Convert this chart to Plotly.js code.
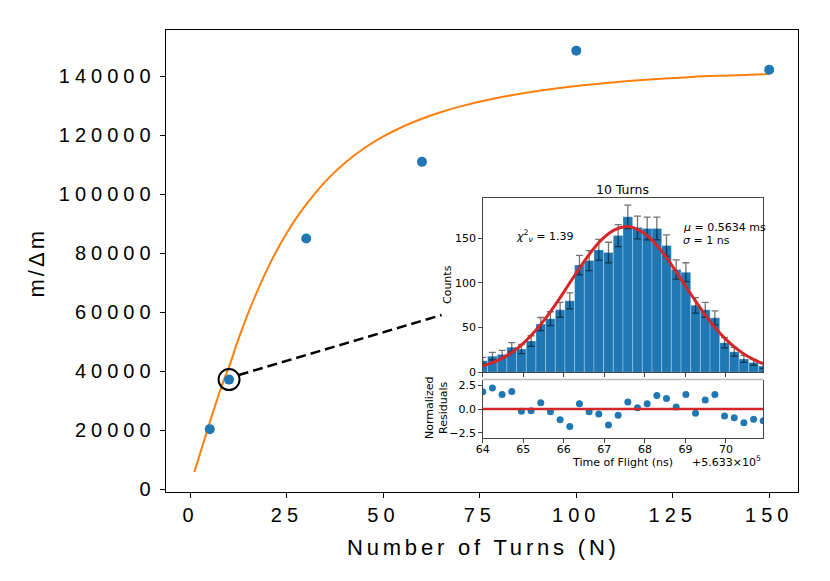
<!DOCTYPE html>
<html>
<head>
<meta charset="utf-8">
<script src="https://cdn.plot.ly/plotly-3.0.1.min.js"></script>
<style>
  html, body { margin: 0; padding: 0; background: #fff; }
  #chart { width: 830px; height: 581px; }
  .xtick text, .ytick text { letter-spacing: 5px; }
</style>
</head>
<body>
<div id="chart"></div>
<script>
// ---------- main chart data ----------
const turnsN = [5, 10, 30, 60, 100, 150];
const resolvingPower = [20400, 37200, 85000, 111000, 148700, 142200];

const fitTurns = [1, 2, 3, 4, 5, 6, 7, 8, 9, 10, 12, 14, 16, 18, 20, 22.5, 25, 27.5, 30, 35, 40, 45, 50, 55, 60, 65, 70, 80, 90, 100, 110, 120, 130, 140, 150];
const fitPower = [5900, 10000, 14300, 18500, 22700, 26800, 30800, 34700, 38300, 41500, 49300, 56500, 63100, 69200, 74900, 81300, 87000, 92100, 96600, 104400, 110600, 115600, 119600, 122900, 125600, 127900, 129800, 132800, 135000, 136700, 138000, 139000, 139800, 140300, 140800];

const highlightN = [10];
const highlightR = [37200];
const connectorN = [12.5, 65.1];
const connectorR = [38750, 59100];

const mainXTicks = [0, 25, 50, 75, 100, 125, 150];
const mainYTicks = [0, 20000, 40000, 60000, 80000, 100000, 120000, 140000];

// ---------- inset (10 turns) data ----------
const binCenters = [64.000, 64.239, 64.477, 64.716, 64.954, 65.193, 65.432, 65.670, 65.909, 66.147,
                    66.386, 66.625, 66.863, 67.102, 67.340, 67.579, 67.818, 68.056, 68.295, 68.533,
                    68.772, 69.011, 69.249, 69.488, 69.726, 69.965, 70.204, 70.442, 70.681, 70.919];
const counts = [13, 18, 20, 28, 26, 35, 54, 60, 70, 80,
                120, 125, 137, 134, 153, 174, 162, 161, 161, 142,
                115, 112, 75, 70, 61, 33, 23, 15, 11, 7];
const residuals = [1.82, 2.2, 1.54, 1.85, -0.24, -0.17, 0.66, -0.28, -1.12, -1.82,
                   0.56, -0.28, -0.52, -1.68, -0.66, 0.73, 0.14, 0.56, 1.43, 1.12,
                   0.21, 1.54, -0.45, 0.94, 1.54, -0.73, -0.91, -1.43, -1.08, -1.22];
const gaussX = [64.0, 64.25, 64.5, 64.75, 65.0, 65.25, 65.5, 65.75, 66.0, 66.25, 66.5, 66.75, 67.0, 67.25, 67.5,
                67.75, 68.0, 68.25, 68.5, 68.75, 69.0, 69.25, 69.5, 69.75, 70.0, 70.25, 70.5, 70.75, 70.92];
const gaussY = [7.2, 11.0, 16.2, 23.3, 32.5, 43.9, 57.5, 73.0, 89.8, 107.2, 124.0, 139.1, 151.2, 159.4, 163.0,
                161.4, 155.0, 144.4, 130.3, 114.1, 96.8, 79.6, 63.5, 49.1, 36.8, 26.7, 18.8, 12.9, 9.8];
const tofTicks = [64, 65, 66, 67, 68, 69, 70];
const countTicks = [0, 50, 100, 150];
const residTicks = [-2.5, 0, 2.5];

const blue = '#1f77b4', orange = '#ff7f0e', red = '#d62728';
const mainFont = 'Liberation Sans, Arial, sans-serif';
const insetFont = 'DejaVu Sans, sans-serif';

const traces = [
  { x: fitTurns, y: fitPower, type: 'scatter', mode: 'lines', line: { color: orange, width: 2, shape: 'spline', smoothing: 1 },
    xaxis: 'x', yaxis: 'y', hoverinfo: 'skip' },
  { x: turnsN, y: resolvingPower, type: 'scatter', mode: 'markers', marker: { color: blue, size: 10 },
    xaxis: 'x', yaxis: 'y' },
  { x: highlightN, y: highlightR, type: 'scatter', mode: 'markers',
    marker: { symbol: 'circle-open', size: 21, color: 'black', line: { width: 2, color: 'black' } },
    xaxis: 'x', yaxis: 'y' },
  { x: connectorN, y: connectorR, type: 'scatter', mode: 'lines',
    line: { color: 'black', width: 2.5, dash: '10px,5px' }, xaxis: 'x', yaxis: 'y' },
  // inset histogram
  { x: binCenters, y: counts, type: 'bar', width: 0.2386,
    marker: { color: blue, line: { color: 'rgba(255,255,255,0.35)', width: 0.8 } },
    error_y: { type: 'sqrt', visible: true, color: 'rgba(0,0,0,0.55)', thickness: 1.3, width: 3.5 },
    xaxis: 'x2', yaxis: 'y2' },
  { x: gaussX, y: gaussY, type: 'scatter', mode: 'lines', line: { color: red, width: 3, shape: 'spline' },
    xaxis: 'x2', yaxis: 'y2' },
  // residuals
  { x: binCenters, y: residuals, type: 'scatter', mode: 'markers', marker: { color: blue, size: 7 },
    xaxis: 'x3', yaxis: 'y3' }
];

const insetAxisCommon = {
  showline: true, mirror: true, linecolor: '#444', linewidth: 1, showgrid: false, zeroline: false,
  ticks: 'outside', ticklen: 3.5, tickcolor: '#444', tickfont: { family: insetFont, size: 11, color: 'black' }
};

const layout = {
  width: 830, height: 581,
  margin: { l: 0, r: 0, t: 0, b: 0 },
  paper_bgcolor: 'white', plot_bgcolor: 'rgba(0,0,0,0)',
  showlegend: false,
  font: { family: insetFont, color: 'black' },
  xaxis: {
    domain: [0.1995, 0.9614], range: [-6.45, 157.45], anchor: 'y',
    tickvals: mainXTicks, ticks: 'outside', ticklen: 5, tickcolor: 'black',
    showline: true, mirror: true, linecolor: 'black', linewidth: 1, showgrid: false, zeroline: false,
    tickfont: { family: mainFont, size: 20, color: 'black' }
  },
  yaxis: {
    domain: [0.1537, 0.9484], range: [-800, 155700], anchor: 'x',
    tickvals: mainYTicks, tickformat: 'd', ticks: 'outside', ticklen: 5, tickcolor: 'black',
    showline: true, mirror: true, linecolor: 'black', linewidth: 1, showgrid: false, zeroline: false,
    tickfont: { family: mainFont, size: 20, color: 'black' }
  },
  xaxis2: Object.assign({}, insetAxisCommon, {
    domain: [0.5816, 0.9196], range: [64, 70.92], anchor: 'y2', tickvals: tofTicks, showticklabels: false
  }),
  yaxis2: Object.assign({}, insetAxisCommon, {
    domain: [0.3592, 0.6597], range: [0, 195.4], anchor: 'x2', tickvals: countTicks
  }),
  xaxis3: Object.assign({}, insetAxisCommon, {
    domain: [0.5816, 0.9196], range: [64, 70.92], anchor: 'y3', tickvals: tofTicks, mirror: false,
    ticklabelstandoff: -3
  }),
  yaxis3: Object.assign({}, insetAxisCommon, {
    domain: [0.2456, 0.3468], range: [-3.07, 3.10], anchor: 'x3', tickvals: residTicks, tickformat: '.1f'
  }),
  shapes: [
    { type: 'line', xref: 'x3 domain', yref: 'y3', x0: 0, x1: 1, y0: 0, y1: 0, line: { color: red, width: 2.5 } },
    { type: 'line', xref: 'x3 domain', yref: 'y3 domain', x0: 0, x1: 1, y0: 1, y1: 1, line: { color: '#bbbbbb', width: 1.5 } }
  ],
  annotations: [
    { text: '<span style="letter-spacing:3.8px">Number of Turns (N)</span>', xref: 'paper', yref: 'paper', x: 0.5825, y: 0.0585,
      xanchor: 'center', yanchor: 'middle', showarrow: false, font: { family: mainFont, size: 22, color: 'black' } },
    { text: '<span style="letter-spacing:3px">m/Δm</span>', xref: 'paper', yref: 'paper', x: 0.0434, y: 0.5465, textangle: -90,
      xanchor: 'center', yanchor: 'middle', showarrow: false, font: { family: mainFont, size: 22, color: 'black' } },
    { text: '10 Turns', xref: 'paper', yref: 'paper', x: 0.7506, y: 0.673, xanchor: 'center', yanchor: 'middle',
      showarrow: false, font: { family: insetFont, size: 12.5, color: 'black' } },
    { text: 'Counts', xref: 'paper', yref: 'paper', x: 0.5398, y: 0.5095, textangle: -90, xanchor: 'center', yanchor: 'middle',
      showarrow: false, font: { family: insetFont, size: 11, color: 'black' } },
    { text: 'Normalized<br>Residuals', xref: 'paper', yref: 'paper', x: 0.5265, y: 0.2978, textangle: -90, xanchor: 'center', yanchor: 'middle',
      showarrow: false, font: { family: insetFont, size: 11, color: 'black' } },
    { text: 'Time of Flight (ns)', xref: 'paper', yref: 'paper', x: 0.7502, y: 0.2048, xanchor: 'center', yanchor: 'middle',
      showarrow: false, font: { family: insetFont, size: 11, color: 'black' } },
    { text: '+5.633×10<sup>5</sup>', xref: 'paper', yref: 'paper', x: 0.9196, y: 0.2058, xanchor: 'right', yanchor: 'middle',
      showarrow: false, font: { family: insetFont, size: 11, color: 'black' } },
    { text: '<i>χ</i><sup>2</sup><sub><i>ν</i></sub> = 1.39', xref: 'x2', yref: 'y2', x: 64.78, y: 152.9, xanchor: 'left', yanchor: 'middle',
      showarrow: false, font: { family: insetFont, size: 11, color: 'black' } },
    { text: '<i>μ</i> = 0.5634 ms', xref: 'x2', yref: 'y2', x: 68.88, y: 162, xanchor: 'left', yanchor: 'middle',
      showarrow: false, font: { family: insetFont, size: 11, color: 'black' } },
    { text: '<i>σ</i> = 1 ns', xref: 'x2', yref: 'y2', x: 68.88, y: 147, xanchor: 'left', yanchor: 'middle',
      showarrow: false, font: { family: insetFont, size: 11, color: 'black' } }
  ],
  bargap: 0
};

Plotly.newPlot('chart', traces, layout, { staticPlot: true, displayModeBar: false });
</script>
</body>
</html>
